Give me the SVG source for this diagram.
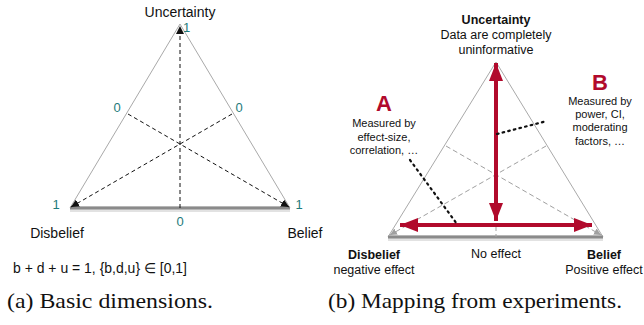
<svg xmlns="http://www.w3.org/2000/svg" width="644" height="325" viewBox="0 0 644 325">
<defs>
<style>
.side{fill:none;stroke:#a9a9a9;stroke-width:1}
.base{stroke:#8a8a8a;stroke-width:3}
.baseShadow{stroke:#cfcfcf;stroke-width:6}
.dash{stroke:#111;stroke-width:1;stroke-dasharray:4 3;fill:none}
.gdash{stroke:#a0a0a0;stroke-width:1;stroke-dasharray:5 3;fill:none}
.dot{stroke:#111;stroke-width:2.2;stroke-dasharray:1.6 4.2;stroke-linecap:round;fill:none}
.red{stroke:#b10a2c;stroke-width:4;fill:none}
.num{font-family:"Liberation Sans",Arial,sans-serif;font-size:13px;fill:#1f7b7b}
.lbl{font-family:"Liberation Sans",Arial,sans-serif;font-size:14px;fill:#111}
.sm{font-family:"Liberation Sans",Arial,sans-serif;font-size:12.5px;fill:#111;text-anchor:middle}
.note{font-family:"Liberation Sans",Arial,sans-serif;font-size:11px;fill:#111;text-anchor:middle}
.big{font-family:"Liberation Sans",Arial,sans-serif;font-size:22px;font-weight:bold;fill:#b10a2c;text-anchor:middle}
.cap{font-family:"Liberation Serif","Times New Roman",serif;font-size:22px;fill:#111}
</style>
<marker id="bk" viewBox="0 0 10 10" refX="10" refY="5" markerWidth="8" markerHeight="8" markerUnits="userSpaceOnUse" orient="auto"><path d="M0,0 L10,5 L0,10 z" fill="#111"/></marker>
<marker id="gr" viewBox="0 0 10 10" refX="10" refY="5" markerWidth="7" markerHeight="7" markerUnits="userSpaceOnUse" orient="auto"><path d="M0,0 L10,5 L0,10 z" fill="#a0a0a0"/></marker>
<marker id="rd" viewBox="0 0 18 14" refX="18" refY="7" markerWidth="18" markerHeight="14" markerUnits="userSpaceOnUse" orient="auto-start-reverse"><path d="M0,0 L18,7 L0,14 z" fill="#b10a2c"/></marker>
</defs>

<!-- Panel (a) -->
<g id="triangle-a">
<polyline class="side" points="70,208 180,24 290,208"/>
<line class="baseShadow" x1="70" y1="209" x2="290" y2="209" opacity="0.6"/>
<line class="base" x1="70" y1="208" x2="290" y2="208"/>
</g>
<g id="connectors-a">
<line class="dash" x1="180" y1="208" x2="180" y2="26" marker-end="url(#bk)"/>
<line class="dash" x1="128" y1="114" x2="289" y2="207" marker-end="url(#bk)"/>
<line class="dash" x1="232" y1="114" x2="71" y2="207" marker-end="url(#bk)"/>
</g>
<g id="labels-a">
<text class="lbl" x="180" y="17" text-anchor="middle">Uncertainty</text>
<text class="num" x="183" y="32">1</text>
<text class="num" x="117" y="112" text-anchor="middle">0</text>
<text class="num" x="239" y="112" text-anchor="middle">0</text>
<text class="num" x="56" y="209" text-anchor="middle">1</text>
<text class="num" x="299" y="209" text-anchor="middle">1</text>
<text class="num" x="180" y="226" text-anchor="middle">0</text>
<text class="lbl" x="57" y="238" text-anchor="middle">Disbelief</text>
<text class="lbl" x="305" y="238" text-anchor="middle">Belief</text>
<text class="lbl" x="13" y="273" font-size="13" textLength="174" lengthAdjust="spacingAndGlyphs">b + d + u = 1, {b,d,u} ∈ [0,1]</text>
<text class="cap" x="7" y="308" textLength="206" lengthAdjust="spacingAndGlyphs">(a) Basic dimensions.</text>
</g>

<!-- Panel (b) -->
<g id="triangle-b">
<polyline class="side" points="388,237 496,62 603,237"/>
<line class="baseShadow" x1="388" y1="238" x2="603" y2="238" opacity="0.6"/>
<line class="base" x1="388" y1="237" x2="603" y2="237"/>
</g>
<g id="connectors-b">
<line class="gdash" x1="446" y1="146" x2="601" y2="235" marker-end="url(#gr)"/>
<line class="gdash" x1="546" y1="146" x2="390" y2="235" marker-end="url(#gr)"/>
<line class="gdash" x1="496" y1="226" x2="496" y2="237"/>
<line class="red" x1="496" y1="221" x2="496" y2="63" marker-start="url(#rd)" marker-end="url(#rd)"/>
<line class="red" x1="400" y1="225" x2="592" y2="225" marker-start="url(#rd)" marker-end="url(#rd)"/>
<line class="dot" x1="410" y1="160" x2="457" y2="224"/>
<line class="dot" x1="497" y1="134" x2="547" y2="121"/>
</g>
<g id="labels-b">
<text class="sm" x="496" y="24" font-weight="bold">Uncertainty</text>
<text class="sm" x="496" y="39">Data are completely</text>
<text class="sm" x="496" y="54">uninformative</text>
<text class="big" x="384" y="111">A</text>
<text class="note" x="384" y="127">Measured by</text>
<text class="note" x="384" y="141">effect-size,</text>
<text class="note" x="384" y="154">correlation, …</text>
<text class="big" x="600" y="90">B</text>
<text class="note" x="600" y="105">Measured by</text>
<text class="note" x="600" y="118">power, CI,</text>
<text class="note" x="600" y="131">moderating</text>
<text class="note" x="600" y="145">factors, …</text>
<text class="sm" x="374" y="259" font-weight="bold">Disbelief</text>
<text class="sm" x="374" y="274">negative effect</text>
<text class="sm" x="496" y="258">No effect</text>
<text class="sm" x="604" y="259" font-weight="bold">Belief</text>
<text class="sm" x="604" y="274">Positive effect</text>
<text class="cap" x="328" y="308" textLength="294" lengthAdjust="spacingAndGlyphs">(b) Mapping from experiments.</text>
</g>
</svg>
